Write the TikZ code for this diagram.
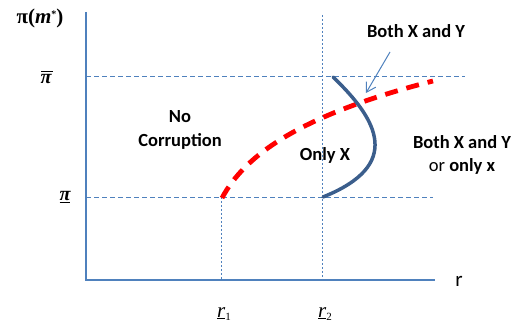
\documentclass[tikz,border=0pt]{standalone}
\usepackage{fontspec}
\setmainfont{Carlito}
\newfontfamily\serifbf{Liberation Serif}
\usetikzlibrary{arrows.meta}
\definecolor{axisblue}{RGB}{79,129,189}
\definecolor{curveblue}{RGB}{59,94,140}
\begin{document}
\begin{tikzpicture}[x=1pt,y=-1pt,
  axisline/.style={draw=axisblue, line width=2pt},
  hguide/.style={draw=axisblue, line width=0.8pt, dash pattern=on 5pt off 3pt},
  vguide/.style={draw=axisblue, line width=0.8pt, dash pattern=on 2pt off 2pt},
  lbl/.style={font=\fontsize{18.5}{22}\selectfont\bfseries, align=center, inner sep=0pt},
  greek/.style={font=\fontsize{20}{22}\selectfont\serifbf\bfseries\itshape, inner sep=0pt},
  rlbl/.style={font=\fontsize{21}{22}\selectfont\serifbf\itshape, inner sep=0pt},
  redcurve/.style={draw=red, line width=4.8pt, dash pattern=on 13pt off 9pt},
  bluecurve/.style={draw=curveblue, line width=3.5pt, line cap=round},
  pointer/.style={draw=axisblue, line width=1pt, -{Straight Barb[length=9pt,width=11pt]}}]
\useasboundingbox (0,0) rectangle (517,331);
% key coordinates
\coordinate (O) at (86,280);
\coordinate (ytop) at (86,12);
\coordinate (xend) at (435,280);
\coordinate (phiL) at (86,76);
\coordinate (phiR) at (465,76);
\coordinate (ploL) at (86,197);
\coordinate (ploR) at (433,197);
\coordinate (r1top) at (221,197);
\coordinate (r1bot) at (221,280);
\coordinate (r2top) at (322,15);
\coordinate (r2bot) at (322,280);
% guides
\draw[hguide] (phiL) -- (phiR);
\draw[hguide] (ploL) -- (ploR);
\draw[vguide] (r1top) -- (r1bot);
\draw[vguide] (r2top) -- (r2bot);
% axes
\draw[axisline] (ytop) -- (O) -- (xend);
% red dashed curve
\coordinate (rs) at (222,198);
\coordinate (re) at (433,81);
\draw[redcurve] (rs) .. controls (245,155) and (300,115) .. (re);
% blue curve
\coordinate (bs) at (333,77);
\coordinate (be) at (323,197);
\draw[bluecurve] (bs) .. controls (378,120) and (403,165) .. (be);
% pointer arrow
\coordinate (as) at (390,52);
\coordinate (ae) at (366,93);
\draw[pointer] (as) -- (ae);
% labels
\node[lbl] (bxy) at (416,31) {Both X and Y};
\node[lbl] (onlyx) at (325,155) {Only X};
\node[lbl] (nocorr) at (180,130) {No\\[2pt]Corruption};
\node[lbl] (bxy2) at (462,142) {Both X and Y};
\node[lbl, font=\fontsize{18.5}{22}\selectfont] (orx) at (462,166) {or \textbf{only x}};
\node[font=\fontsize{21}{22}\selectfont, inner sep=0pt] (rlab) at (459,281) {r};
\node[inner sep=0pt, font=\fontsize{21}{24}\selectfont\serifbf\bfseries] (ylab) at (40,18) {π(\textit{m}\raisebox{0.6ex}{\fontsize{10}{10}\selectfont *})};
\node[greek] (pihi) at (46,79) {π};
\draw[line width=1.2pt] ([xshift=1pt,yshift=2.5pt]pihi.north west) -- ([xshift=1pt,yshift=2.5pt]pihi.north east);
\node[greek] (pilo) at (65,197) {\underline{π}};
\node[rlbl] (r1) at (224,314) {\underline{r}\raisebox{-0.4ex}{\fontsize{11}{12}\selectfont\upshape 1}};
\node[rlbl] (r2) at (325,314) {\underline{r}\raisebox{-0.4ex}{\fontsize{11}{12}\selectfont\upshape 2}};
\end{tikzpicture}
\end{document}
